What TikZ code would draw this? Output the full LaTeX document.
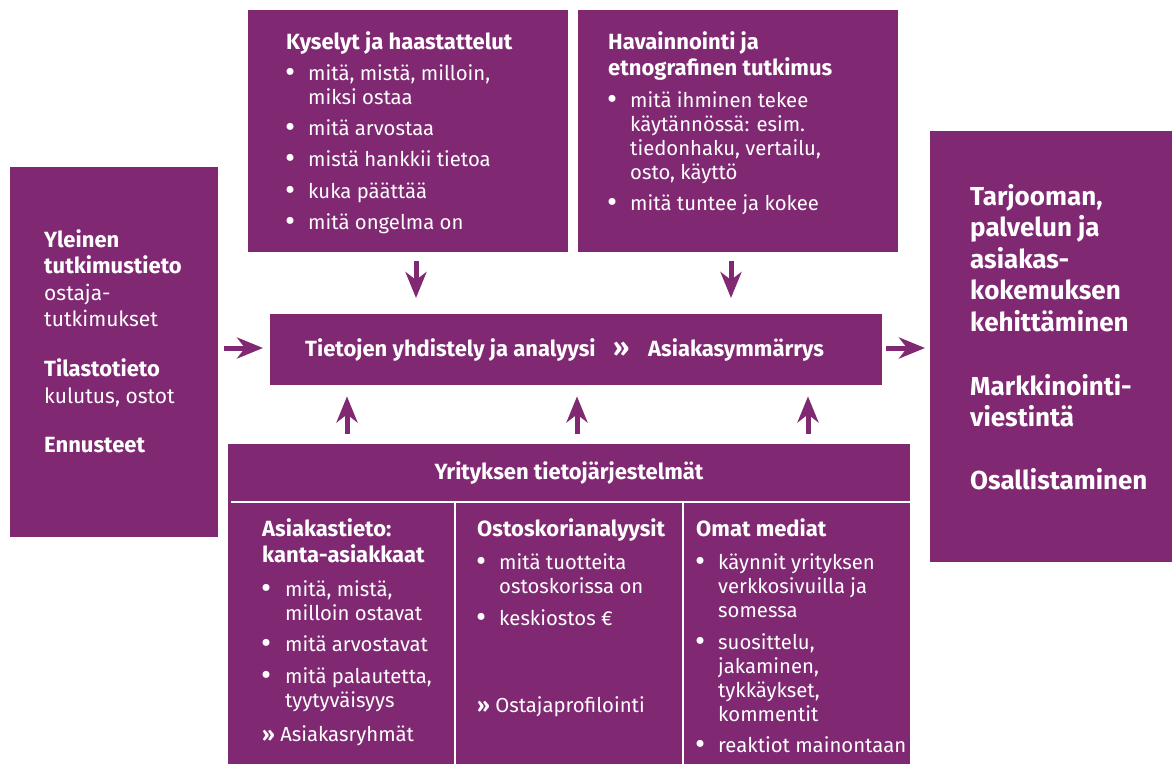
\documentclass[tikz,border=0pt]{standalone}
\usepackage{fontspec}
\setmainfont{Fira Sans}
\usetikzlibrary{arrows.meta}
\definecolor{pur}{RGB}{128,41,114}
\newcommand{\ml}[1]{\begin{tabular}[t]{@{}l@{}}#1\end{tabular}}
\newcommand{\bt}{\raisebox{-2.5pt}{•}}
\tikzset{
  box/.style={fill=pur, draw=none, anchor=north west, inner sep=0},
  txt/.style={anchor=base west, inner sep=0, text=white, font=\fontsize{20.3}{24}\selectfont},
  hd/.style={anchor=base west, inner sep=0, text=white, font=\fontsize{22}{26.5}\selectfont\bfseries},
  big/.style={anchor=base west, inner sep=0, text=white, font=\fontsize{26}{31.5}\selectfont\bfseries},
  bul/.style={anchor=base west, inner sep=0, text=white, font=\fontsize{31}{24}\selectfont},
  arr/.style={pur, line width=5pt, -{Stealth[length=26pt,width=21pt,inset=8pt]}},
  sep/.style={white, line width=2.5pt}
}
\begin{document}
\begin{tikzpicture}[x=1pt,y=-1pt]
\useasboundingbox (0,0) rectangle (1172,764);
% boxes
\node[box, minimum width=208, minimum height=370] (L) at (10,167) {};
\node[box, minimum width=320, minimum height=242] (T1) at (248,10) {};
\node[box, minimum width=320, minimum height=242] (T2) at (578,10) {};
\node[box, minimum width=612, minimum height=71] (C) at (270,314) {};
\node[box, minimum width=242, minimum height=431] (R) at (930,131) {};
\node[box, minimum width=682, minimum height=320] (B) at (228,444) {};
% bottom box separators
\coordinate (h1) at (231,502);
\coordinate (h2) at (910,502);
\coordinate (v1) at (455,502);
\coordinate (v2) at (683,502);
\draw[sep] (h1) -- (h2);
\draw[sep] (v1) -- (v1 |- B.south);
\draw[sep] (v2) -- (v2 |- B.south);
% arrows
\coordinate (a1) at (416,0);
\coordinate (a2) at (731,0);
\coordinate (u1) at (347,0);
\coordinate (u2) at (577,0);
\coordinate (u3) at (808,0);
\coordinate (my) at (0,348);
\draw[arr, shorten <=6pt, shorten >=7pt] (L.east |- my) -- (C.west |- my);
\draw[arr, shorten <=4pt, shorten >=5pt] (C.east |- my) -- (R.west |- my);
\draw[arr, shorten <=9pt, shorten >=16pt] (a1 |- T1.south) -- (a1 |- C.north);
\draw[arr, shorten <=9pt, shorten >=16pt] (a2 |- T2.south) -- (a2 |- C.north);
\draw[arr, shorten <=10pt, shorten >=11pt] (u1 |- B.north) -- (u1 |- C.south);
\draw[arr, shorten <=10pt, shorten >=11pt] (u2 |- B.north) -- (u2 |- C.south);
\draw[arr, shorten <=10pt, shorten >=11pt] (u3 |- B.north) -- (u3 |- C.south);
% left box text
\node[hd] (l1) at (44,247) {\ml{Yleinen\\tutkimustieto}};
\node[txt, font=\fontsize{21}{26.5}\selectfont] (l2) at (44,300) {\ml{ostaja-\\tutkimukset}};
\node[hd] (l3) at (44,376) {Tilastotieto};
\node[txt, font=\fontsize{21}{24}\selectfont] (l4) at (44,403) {kulutus, ostot};
\node[hd] (l5) at (44,452) {Ennusteet};
% top box 1
\node[hd] (t1h) at (286,49) {Kyselyt ja haastattelut};
\node[bul] (t1b1) at (285,80) {\bt};
\node[txt] (t1i1) at (308,80) {\ml{mitä, mistä, milloin,\\miksi ostaa}};
\node[bul] (t1b2) at (285,135) {\bt};
\node[txt] (t1i2) at (308,135) {mitä arvostaa};
\node[bul] (t1b3) at (285,166) {\bt};
\node[txt] (t1i3) at (308,166) {mistä hankkii tietoa};
\node[bul] (t1b4) at (285,198) {\bt};
\node[txt] (t1i4) at (308,198) {kuka päättää};
\node[bul] (t1b5) at (285,229) {\bt};
\node[txt] (t1i5) at (308,229) {mitä ongelma on};
% top box 2
\node[hd] (t2h) at (608,49) {\ml{Havainnointi ja\\etnografinen tutkimus}};
\node[bul] (t2b1) at (607,107) {\bt};
\node[txt] (t2i1) at (630,107) {\ml{mitä ihminen tekee\\käytännössä: esim.\\tiedonhaku, vertailu,\\osto, käyttö}};
\node[bul] (t2b2) at (607,210) {\bt};
\node[txt] (t2i2) at (630,210) {mitä tuntee ja kokee};
% central
\node[hd] (c1) at (305,356) {Tietojen yhdistely ja analyysi};
\node[hd, font=\fontsize{26}{26}\selectfont\bfseries] (c2) at (613,356) {»};
\node[hd] (c3) at (648,356) {Asiakasymmärrys};
% right box
\node[big] (r1) at (970,205) {\ml{Tarjooman,\\palvelun ja\\asiakas-\\kokemuksen\\kehittäminen}};
\node[big] (r2) at (970,395) {\ml{Markkinointi-\\viestintä}};
\node[big] (r3) at (970,489) {Osallistaminen};
% bottom header
\node[hd, anchor=base] (bh) at (569,479) {Yrityksen tietojärjestelmät};
% column 1
\node[hd] (k1h) at (262,536) {\ml{Asiakastieto:\\kanta-asiakkaat}};
\node[bul] (k1b1) at (261,596) {\bt};
\node[txt] (k1i1) at (285,596) {\ml{mitä, mistä,\\milloin ostavat}};
\node[bul] (k1b2) at (261,651) {\bt};
\node[txt] (k1i2) at (285,651) {mitä arvostavat};
\node[bul] (k1b3) at (261,683) {\bt};
\node[txt] (k1i3) at (285,683) {\ml{mitä palautetta,\\tyytyväisyys}};
\node[txt] (k1r) at (262,741) {\textbf{»} Asiakasryhmät};
% column 2
\node[hd] (k2h) at (477,536) {Ostoskorianalyysit};
\node[bul] (k2b1) at (476,569) {\bt};
\node[txt] (k2i1) at (499,569) {\ml{mitä tuotteita\\ostoskorissa on}};
\node[bul] (k2b2) at (476,625) {\bt};
\node[txt] (k2i2) at (499,625) {keskiostos €};
\node[txt] (k2r) at (477,712) {\textbf{»} Ostajaprofilointi};
% column 3
\node[hd] (k3h) at (696,536) {Omat mediat};
\node[bul] (k3b1) at (695,569) {\bt};
\node[txt] (k3i1) at (718,569) {\ml{käynnit yrityksen\\verkkosivuilla ja\\somessa}};
\node[bul] (k3b2) at (695,649) {\bt};
\node[txt] (k3i2) at (718,649) {\ml{suosittelu,\\jakaminen,\\tykkäykset,\\kommentit}};
\node[bul] (k3b3) at (695,752) {\bt};
\node[txt] (k3i3) at (718,752) {reaktiot mainontaan};
\end{tikzpicture}
\end{document}
